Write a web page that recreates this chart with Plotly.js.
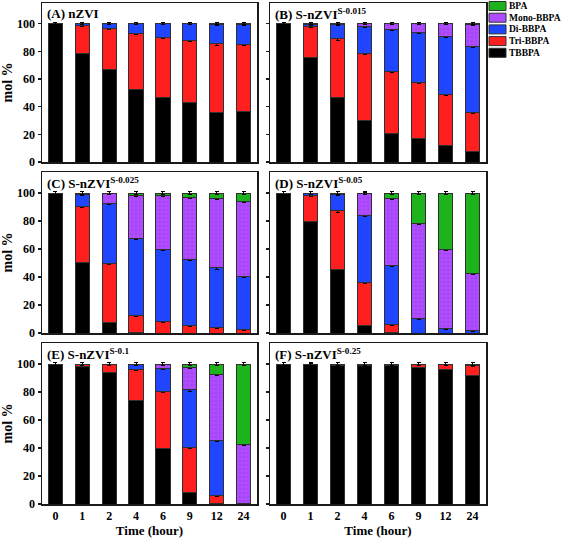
<!DOCTYPE html>
<html><head><meta charset="utf-8">
<script src="https://cdn.plot.ly/plotly-3.0.1.min.js"></script>
<style>html,body{margin:0;padding:0;background:#fff}</style>
</head><body><div id="chart" style="width:561px;height:538px"></div>
<script>
const times = ['0','1','2','4','6','9','12','24'];
const seriesNames = ['TBBPA','Tri-BBPA','Di-BBPA','Mono-BBPA','BPA'];
const seriesColors = ['#000000','#ff1f1f','#1f45ff','#b04cff','#1db31d'];
const panelTitles = ['(A) nZVI','(B) S-nZVI<sup>S-0.015</sup>','(C) S-nZVI<sup>S-0.025</sup>',
  '(D) S-nZVI<sup>S-0.05</sup>','(E) S-nZVI<sup>S-0.1</sup>','(F) S-nZVI<sup>S-0.25</sup>'];
const yTicks = [0,20,40,60,80,100];

// Panel A: nZVI
const A_TBBPA = [100,78.4,67.1,52.8,46.8,43.2,36.0,36.5];
const A_Tri   = [0,20.2,29.8,40.5,43.6,44.8,49.4,48.6];
const A_Di    = [0,1.4,3.1,6.7,9.6,12.0,13.9,14.2];
const A_Mono  = [0,0,0,0,0,0,0.7,0.7];
const A_BPA   = [0,0,0,0,0,0,0,0];
// Panel B: S-nZVI S-0.015
const B_TBBPA = [100,75.5,46.5,30.0,20.4,17.0,12.0,7.4];
const B_Tri   = [0,22.6,42.5,48.2,45.1,40.3,36.9,28.3];
const B_Di    = [0,1.4,10.3,20.1,30.4,36.5,42.2,47.8];
const B_Mono  = [0,0.5,0.7,1.7,4.1,6.2,8.9,16.0];
const B_BPA   = [0,0,0,0,0,0,0,0.5];
// Panel C: S-nZVI S-0.025
const C_TBBPA = [100,50.1,7.5,0.5,0,0,0,0];
const C_Tri   = [0,40.3,42.4,11.8,8.4,5.5,3.9,2.7];
const C_Di    = [0,8.6,42.9,55.2,51.1,46.8,42.6,38.0];
const C_Mono  = [0,1.0,7.2,30.8,38.8,44.6,49.6,53.5];
const C_BPA   = [0,0,0,1.7,1.7,3.1,3.9,5.8];
// Panel D: S-nZVI S-0.05
const D_TBBPA = [100,79.8,45.3,5.5,0.5,0,0,0];
const D_Tri   = [0,18.5,41.9,30.6,5.5,0,0,0];
const D_Di    = [0,1.7,11.8,48.0,42.2,10.4,3.4,1.9];
const D_Mono  = [0,0,1.0,15.4,47.7,67.7,56.1,40.5];
const D_BPA   = [0,0,0,0.5,4.1,21.9,40.5,57.6];
// Panel E: S-nZVI S-0.1
const E_TBBPA = [100,98.3,93.8,73.6,39.8,8.2,0.5,0];
const E_Tri   = [0,1.7,6.2,22.6,40.8,32.1,5.7,0];
const E_Di    = [0,0,0,3.8,16.0,41.2,39.4,0.5];
const E_Mono  = [0,0,0,0,3.4,16.1,47.2,41.9];
const E_BPA   = [0,0,0,0,0,2.4,7.2,57.6];
// Panel F: S-nZVI S-0.25
const F_TBBPA = [100,99.3,98.8,99.0,98.6,97.6,96.2,91.6];
const F_Tri   = [0,0.7,1.2,1.0,1.4,2.4,3.8,7.4];
const F_Di    = [0,0,0,0,0,0,0,1.0];
const F_Mono  = [0,0,0,0,0,0,0,0];
const F_BPA   = [0,0,0,0,0,0,0,0];

const panels = [
  [A_TBBPA,A_Tri,A_Di,A_Mono,A_BPA],
  [B_TBBPA,B_Tri,B_Di,B_Mono,B_BPA],
  [C_TBBPA,C_Tri,C_Di,C_Mono,C_BPA],
  [D_TBBPA,D_Tri,D_Di,D_Mono,D_BPA],
  [E_TBBPA,E_Tri,E_Di,E_Mono,E_BPA],
  [F_TBBPA,F_Tri,F_Di,F_Mono,F_BPA]
];

const W = 561, H = 538;
const colX = [[42,257],[270,486]];
const rowY = [[3,162],[172,333],[343,504]];
const FONT = 'Liberation Serif, Times New Roman, serif';

const traces = [];
const layout = {
  width: W, height: H,
  margin: {l:0,r:0,t:0,b:0},
  paper_bgcolor: '#fff', plot_bgcolor: '#fff',
  barmode: 'stack',
  bargap: 0.47,
  showlegend: false,
  annotations: [],
  shapes: [],
  font: {family: FONT, color:'#000'}
};

panels.forEach((series, p) => {
  const row = Math.floor(p/2), col = p%2;
  const xa = 'x' + (p===0?'':p+1), ya = 'y' + (p===0?'':p+1);
  const xk = 'xaxis' + (p===0?'':p+1), yk = 'yaxis' + (p===0?'':p+1);
  series.forEach((vals, s) => {
    const marker = {color: seriesColors[s], line:{color:'#303030', width:1}};
    if (seriesNames[s] === 'Mono-BBPA') {
      marker.pattern = {shape:'.', fgcolor:'#8d3ad6', bgcolor: seriesColors[s], size:4, solidity:0.12, fillmode:'replace'};
    }
    traces.push({
      type:'bar', x: times, y: vals.map(v => v===0 ? null : v),
      name: seriesNames[s], legendgroup: seriesNames[s], showlegend: false,
      xaxis: xa, yaxis: ya,
      marker: marker,
      error_y: {type:'constant', value:0.8, visible:true, color:'#000', thickness:1, width:2}
    });
  });
  const [x0,x1] = colX[col], [yTop,yBot] = rowY[row];
  layout[xk] = {
    domain:[x0/W, x1/W], anchor: ya, type:'category',
    categoryorder:'array', categoryarray: times,
    showline:true, mirror:true, linecolor:'#1a1a1a', linewidth:1.5,
    ticks:'', showgrid:false, zeroline:false,
    showticklabels: row===2,
    tickfont:{family:FONT, size:12, weight:'bold', color:'#000'}
  };
  if (row===2) layout[xk].title = {text:'Time (hour)', font:{family:FONT,size:13,weight:'bold',color:'#000'}, standoff:4};
  layout[yk] = {
    domain:[1-yBot/H, 1-yTop/H], anchor: xa, range:[0,115],
    tickvals: yTicks, ticks:'outside', ticklen:3, tickwidth:1.2, tickcolor:'#1a1a1a',
    showline:true, mirror:true, linecolor:'#1a1a1a', linewidth:1.5,
    showgrid:false, zeroline:false,
    showticklabels: col===0,
    tickfont:{family:FONT, size:12, weight:'bold', color:'#000'}
  };
  if (col===0) layout[yk].title = {text:'mol %', font:{family:FONT,size:14,weight:'bold',color:'#000'}, standoff:4};
  layout.annotations.push({
    xref:'paper', yref:'paper', x:(x0+3)/W, y:1-(yTop+1)/H, xanchor:'left', yanchor:'top',
    text: panelTitles[p], showarrow:false,
    font:{family:FONT, size:13, weight:'bold', color:'#000'}
  });
});

// Legend (top item = BPA), drawn from seriesNames / seriesColors
const legX = 489, legY0 = 6, legStep = 11.7;
seriesNames.slice().reverse().forEach((name, i) => {
  const color = seriesColors[seriesNames.indexOf(name)];
  const cy = legY0 + i*legStep;
  layout.shapes.push({type:'rect', xref:'paper', yref:'paper',
    x0: legX/W, x1:(legX+17)/W, y0: 1-(cy+4.5)/H, y1: 1-(cy-4.5)/H,
    fillcolor: color, line:{color:'#303030', width:1}});
  layout.annotations.push({xref:'paper', yref:'paper', x:(legX+18)/W, y:1-cy/H,
    xanchor:'left', yanchor:'middle', text:name, showarrow:false,
    font:{family:FONT, size:9.5, weight:'bold', color:'#000'}});
});

Plotly.newPlot('chart', traces, layout, {displayModeBar:false, staticPlot:true});
</script></body></html>
